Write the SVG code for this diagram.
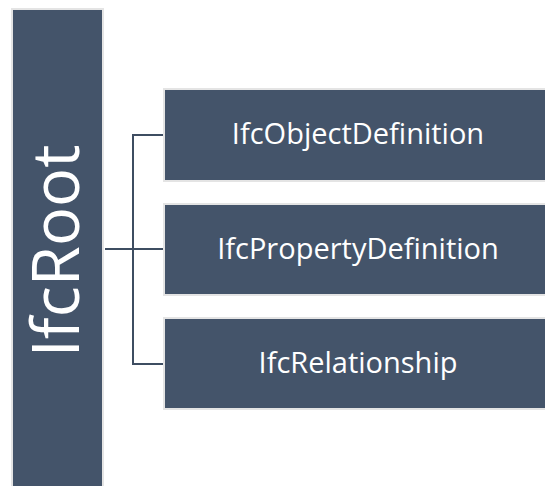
<svg xmlns="http://www.w3.org/2000/svg" width="545" height="486" viewBox="0 0 545 486">
  <style>
    .box { fill: #44546A; stroke: #e4e4e4; stroke-width: 2; }
    .label { fill: #ffffff; font-family: "Open Sans", "Liberation Sans", sans-serif; text-anchor: middle; }
    .link { fill: none; stroke: #3e4d61; stroke-width: 2; }
  </style>
  <rect width="545" height="486" fill="#ffffff"/>

  <g id="connectors">
    <path class="link" d="M105 249 H164"/>
    <path class="link" d="M163 135 H133 V364 H163"/>
  </g>

  <g id="IfcRoot">
    <rect class="box" x="12" y="9" width="91" height="485"/>
    <text class="label" transform="translate(79 251) rotate(-90)" font-size="65">IfcRoot</text>
  </g>

  <g id="IfcObjectDefinition">
    <rect class="box" x="164" y="89" width="390" height="92"/>
    <text class="label" x="358" y="144" font-size="29">IfcObjectDefinition</text>
  </g>

  <g id="IfcPropertyDefinition">
    <rect class="box" x="164" y="204" width="390" height="91"/>
    <text class="label" x="358" y="259" font-size="29">IfcPropertyDefinition</text>
  </g>

  <g id="IfcRelationship">
    <rect class="box" x="164" y="318" width="390" height="91"/>
    <text class="label" x="358" y="373" font-size="29">IfcRelationship</text>
  </g>
</svg>
